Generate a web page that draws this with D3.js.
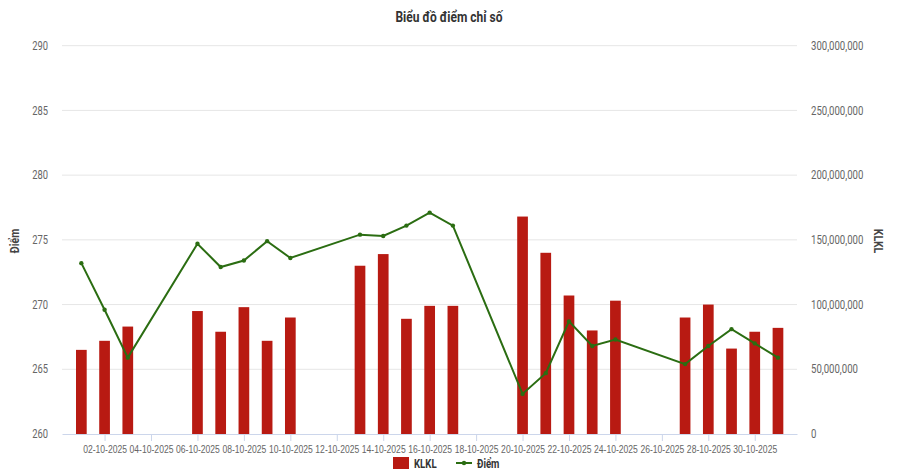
<!DOCTYPE html>
<html><head><meta charset="utf-8">
<script src="https://cdn.jsdelivr.net/npm/d3@7"></script>
<style>
body{margin:0;background:#fff;}
svg{display:block;font-family:Roboto,"Liberation Sans",sans-serif;}
</style></head>
<body><svg id="c" width="900" height="472"></svg>
<script>
const dates = ["01-10-2025","02-10-2025","03-10-2025","06-10-2025","07-10-2025","08-10-2025","09-10-2025","10-10-2025",
  "13-10-2025","14-10-2025","15-10-2025","16-10-2025","17-10-2025","20-10-2025","21-10-2025","22-10-2025","23-10-2025","24-10-2025",
  "27-10-2025","28-10-2025","29-10-2025","30-10-2025","31-10-2025"];
const diem = [273.2,269.6,265.9,274.7,272.9,273.4,274.9,273.6,275.4,275.3,276.1,277.1,276.1,263.1,264.7,268.7,266.8,267.3,265.4,266.8,268.1,267.0,265.9];
const klkl = [65e6,72e6,83e6,95e6,79e6,98e6,72e6,90e6,130e6,139e6,89e6,99e6,99e6,168e6,140e6,107e6,80e6,103e6,90e6,100e6,66e6,79e6,82e6];
const leftTicks = [260,265,270,275,280,285,290];
const rightTicks = [0,50e6,100e6,150e6,200e6,250e6,300e6];
const xTickDates = ["02-10-2025","04-10-2025","06-10-2025","08-10-2025","10-10-2025","12-10-2025","14-10-2025","16-10-2025",
  "18-10-2025","20-10-2025","22-10-2025","24-10-2025","26-10-2025","28-10-2025","30-10-2025"];

const parse = d3.utcParse("%d-%m-%Y");
const fmt = d3.utcFormat("%d-%m-%Y");
const svg = d3.select("#c");
const L = 62, R = 797, T = 45.7, B = 434;

// place a horizontally condensed text (mimics a condensed font)
function ctext(parent, x0, y0, k, rot){
  return parent.append("text")
    .attr("transform", `translate(${x0},${y0})` + (rot ? ` rotate(${rot})` : "") + ` scale(${k},1)`);
}

const x = d3.scaleUtc()
  .domain([new Date(Date.UTC(2025,8,30,4,0)), new Date(Date.UTC(2025,9,31,19,40))])
  .range([L, R]);
const yL = d3.scaleLinear().domain([260,290]).range([B,T]);
const yR = d3.scaleLinear().domain([0,300e6]).range([B,T]);

// grid
svg.append("g").selectAll("line").data(leftTicks.slice(1)).join("line")
  .attr("x1",L).attr("x2",R).attr("y1",d=>yL(d)).attr("y2",d=>yL(d))
  .attr("stroke","#e6e6e6").attr("stroke-width",1);

// left axis labels
svg.append("g").selectAll("text").data(leftTicks).join("text")
  .attr("transform",d=>`translate(48,${yL(d)}) scale(0.78,1)`).attr("dy","0.35em").attr("text-anchor","end")
  .attr("fill","#666").attr("font-size",12).text(d=>d);
// right axis labels
const rf = d3.format(",");
svg.append("g").selectAll("text").data(rightTicks).join("text")
  .attr("transform",d=>`translate(811,${yR(d)}) scale(0.8,1)`).attr("dy","0.35em").attr("text-anchor","start")
  .attr("fill","#666").attr("font-size",12).text(d=>rf(d));

// axis titles
ctext(svg,19,241,0.8,-90).attr("text-anchor","middle")
  .attr("fill","#444").attr("font-weight","bold").attr("font-size",13).text("Điểm");
ctext(svg,874,241,0.8,90).attr("text-anchor","middle")
  .attr("fill","#444").attr("font-weight","bold").attr("font-size",13).text("KLKL");

// x axis
const xAxis = d3.axisBottom(x).tickValues(xTickDates.map(parse)).tickFormat(fmt).tickSize(7).tickSizeOuter(0);
const gx = svg.append("g").attr("transform",`translate(0,${B})`).call(xAxis);
gx.select(".domain").attr("stroke","#ccd6eb");
gx.selectAll(".tick line").attr("stroke","#ccd6eb");
gx.selectAll(".tick text").attr("fill","#666").attr("font-size",11).attr("font-family","inherit")
  .attr("y",0).attr("dy","0").attr("transform","translate(0,19) scale(0.78,1)");

// bars
const bw = 10.7;
svg.append("g").selectAll("rect").data(dates).join("rect")
  .attr("x",(d)=>x(parse(d))-bw/2).attr("width",bw)
  .attr("y",(d,i)=>yR(klkl[i])).attr("height",(d,i)=>B-yR(klkl[i]))
  .attr("fill","#b81a12");

// line
const line = d3.line().x((d,i)=>x(parse(dates[i]))).y(d=>yL(d));
svg.append("path").datum(diem).attr("d",line).attr("fill","none")
  .attr("stroke","#2b6d12").attr("stroke-width",2);
svg.append("g").selectAll("circle").data(diem).join("circle")
  .attr("cx",(d,i)=>x(parse(dates[i]))).attr("cy",d=>yL(d)).attr("r",2.2).attr("fill","#2b6d12");

// title
ctext(svg,449,22,0.8,0).attr("text-anchor","middle")
  .attr("fill","#333").attr("font-weight","bold").attr("font-size",15).text("Biểu đồ điểm chỉ số");

// legend
const lg = svg.append("g");
lg.append("rect").attr("x",393).attr("y",457).attr("width",16).attr("height",12).attr("fill","#b81a12");
ctext(lg,414,467.5,0.74,0).attr("fill","#333").attr("font-weight","bold").attr("font-size",13).text("KLKL");
lg.append("line").attr("x1",456).attr("x2",472).attr("y1",463).attr("y2",463).attr("stroke","#2b6d12").attr("stroke-width",2);
lg.append("circle").attr("cx",464).attr("cy",463).attr("r",2.2).attr("fill","#2b6d12");
ctext(lg,477,467.5,0.74,0).attr("fill","#333").attr("font-weight","bold").attr("font-size",13).text("Điểm");
</script></body></html>
